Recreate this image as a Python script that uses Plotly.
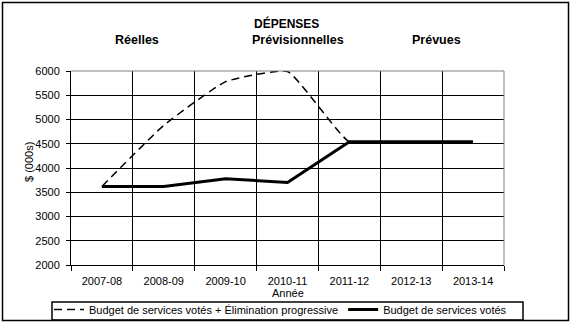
import plotly.graph_objects as go

years = ["2007-08", "2008-09", "2009-10", "2010-11", "2011-12", "2012-13", "2013-14"]
budget_plus_elim = [3620, 4880, 5780, 5990, 4540, 4540, 4540]
budget_votes = [3620, 3620, 3780, 3700, 4540, 4540, 4540]

W, H = 571, 323
L, R, T, B = 71, 67, 71, 58
pw, ph = W - L - R, H - T - B

def px(x):
    return (x - L) / pw

def py(y):
    return (H - B - y) / ph

FONT = "Liberation Sans, Arial, sans-serif"

fig = go.Figure()
fig.add_trace(go.Scatter(
    x=years, y=budget_plus_elim, mode="lines",
    name="Budget de services votés + Élimination progressive",
    line=dict(color="black", width=1.5, dash="8px,5px", shape="spline", smoothing=0.4),
))
fig.add_trace(go.Scatter(
    x=years, y=budget_votes, mode="lines",
    name="Budget de services votés",
    line=dict(color="black", width=3, shape="linear"),
))

fig.update_layout(
    width=W, height=H,
    margin=dict(l=L, r=R, t=T, b=B, autoexpand=False),
    paper_bgcolor="white", plot_bgcolor="white",
    font=dict(family=FONT, size=11, color="black"),
    showlegend=True,
    legend=dict(
        orientation="h", x=px(49), y=py(295), xanchor="left", yanchor="top",
        bgcolor="rgba(0,0,0,0)", borderwidth=0, font=dict(size=11),
        itemwidth=30, tracegroupgap=0,
    ),
    xaxis=dict(
        type="category", range=[-0.5, 6.5],
        showgrid=True, gridcolor="black", gridwidth=1,
        tickson="boundaries", ticks="outside", ticklen=5, tickcolor="black",
        showline=True, linecolor="black", linewidth=1,
        tickfont=dict(size=11), zeroline=False, ticklabelstandoff=6,
    ),
    yaxis=dict(
        range=[2000, 6000], dtick=500, tick0=2000,
        showgrid=True, gridcolor="black", gridwidth=1,
        ticks="outside", ticklen=4, tickcolor="black",
        showline=True, linecolor="black", linewidth=1,
        tickfont=dict(size=11), zeroline=False, ticklabelstandoff=4,
    ),
)

shapes = [
    dict(type="line", xref="paper", yref="paper", x0=0, x1=1, y0=1, y1=1,
         line=dict(color="#808080", width=1)),
    dict(type="line", xref="paper", yref="paper", x0=1, x1=1, y0=0, y1=1,
         line=dict(color="#808080", width=1)),
    # outer chart border
    dict(type="rect", xref="paper", yref="paper",
         x0=px(2.5), x1=px(568.5), y0=py(320.5), y1=py(2.5),
         line=dict(color="black", width=1.5)),
    # legend box
    dict(type="rect", xref="paper", yref="paper",
         x0=px(52), x1=px(523), y0=py(320), y1=py(302),
         line=dict(color="black", width=1.5)),
]
fig.update_layout(shapes=shapes)

ann = [
    dict(text="<b>DÉPENSES</b>", x=px(286), y=py(24), size=12),
    dict(text="<b>Réelles</b>", x=px(137), y=py(40), size=12.5),
    dict(text="<b>Prévisionnelles</b>", x=px(298), y=py(40), size=12.5),
    dict(text="<b>Prévues</b>", x=px(436), y=py(40), size=12.5),
    dict(text="Année", x=px(288), y=py(293), size=11),
]
for a in ann:
    fig.add_annotation(text=a["text"], x=a["x"], y=a["y"], xref="paper", yref="paper",
                       showarrow=False, xanchor="center", yanchor="middle",
                       font=dict(family=FONT, size=a["size"], color="black"))
fig.add_annotation(text="$ (000s)", x=px(29), y=py(162), xref="paper", yref="paper",
                   showarrow=False, textangle=-90, xanchor="center", yanchor="middle",
                   font=dict(family=FONT, size=11, color="black"))

fig.write_html("out.html")
